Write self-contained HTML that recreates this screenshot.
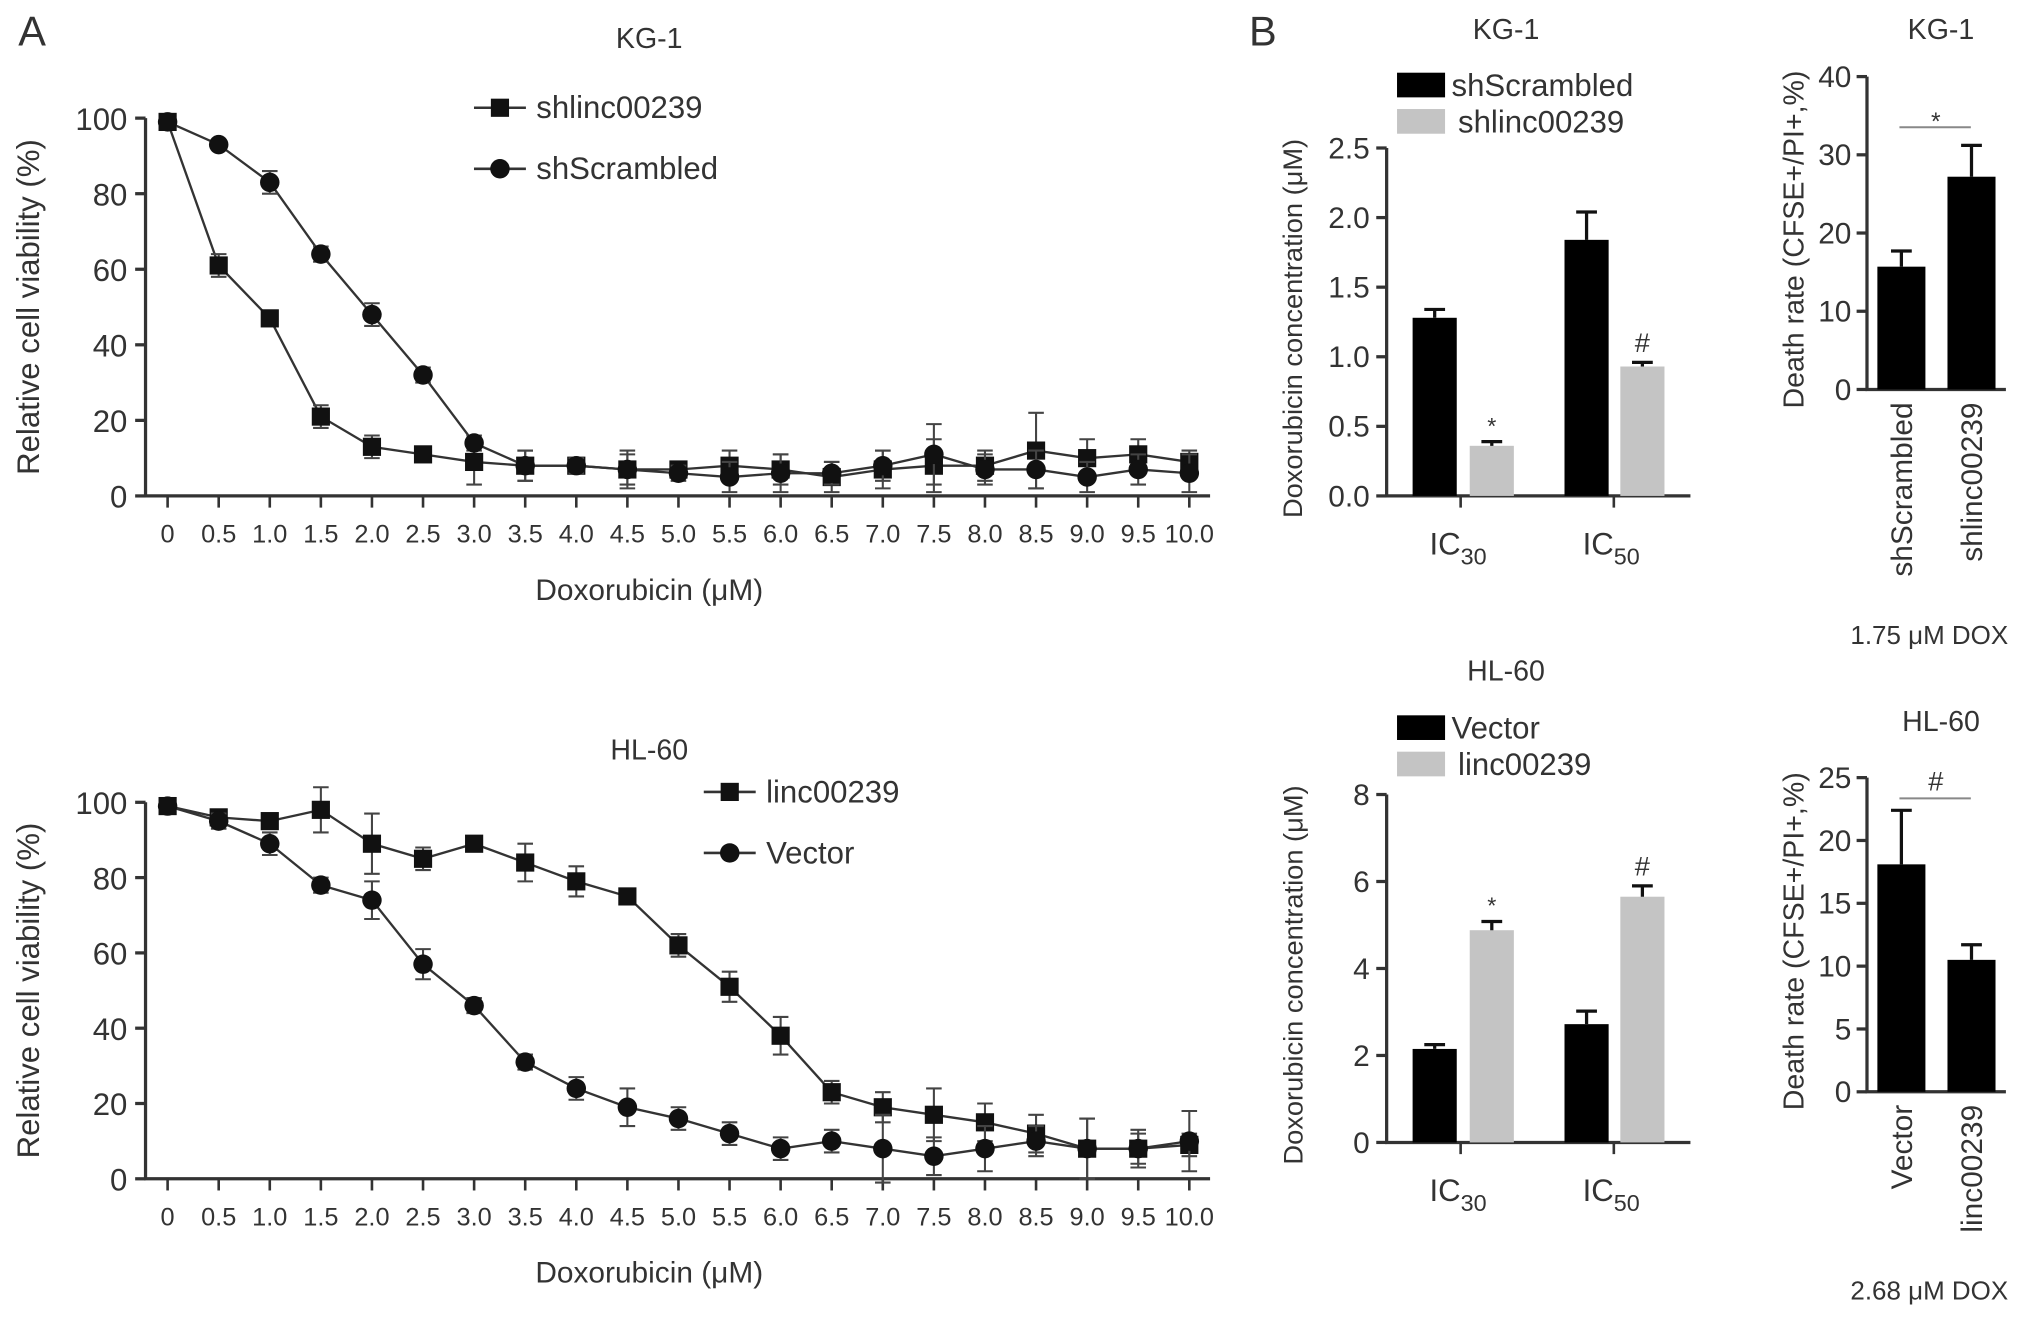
<!DOCTYPE html>
<html><head><meta charset="utf-8"><style>
html,body{margin:0;padding:0;background:#fff}
svg{display:block}
text{font-family:"Liberation Sans",sans-serif;fill:#333}
</style></head><body>
<svg id="fig" width="2032" height="1319" viewBox="0 0 1565 1016" xmlns="http://www.w3.org/2000/svg">
<text x="14" y="35" font-size="32">A</text>
<text x="962" y="35" font-size="32">B</text>
</svg>
<script>
const doses=["0","0.5","1.0","1.5","2.0","2.5","3.0","3.5","4.0","4.5","5.0","5.5","6.0","6.5","7.0","7.5","8.0","8.5","9.0","9.5","10.0"];
const kgSh=[99,61,47,21,13,11,9,8,8,7,7,8,7,5,7,8,8,12,10,11,9];
const kgShErr=[1,3,2,3,3,2,6,4,2,5,2,4,4,4,5,7,4,10,5,4,3];
const kgScr=[99,93,83,64,48,32,14,8,8,7,6,5,6,6,8,11,7,7,5,7,6];
const kgScrErr=[1,1,3,2,3,2,2,4,2,4,2,4,5,3,4,8,4,5,4,4,5];
const hlLinc=[99,96,95,98,89,85,89,84,79,75,62,51,38,23,19,17,15,12,8,8,9];
const hlLincErr=[1,2,2,6,8,3,2,5,4,2,3,4,5,3,4,7,5,5,8,4,3];
const hlVec=[99,95,89,78,74,57,46,31,24,19,16,12,8,10,8,6,8,10,8,8,10];
const hlVecErr=[1,2,3,2,5,4,2,2,3,5,3,3,3,3,9,5,6,4,8,5,8];
const yTicksLine=[0,20,40,60,80,100];
const icCats=["IC30","IC50"];
const kgIcBlack=[1.28,1.84], kgIcBlackErr=[0.06,0.2];
const kgIcGray=[0.36,0.93], kgIcGrayErr=[0.03,0.03];
const hlIcBlack=[2.15,2.72], hlIcBlackErr=[0.1,0.3];
const hlIcGray=[4.88,5.65], hlIcGrayErr=[0.2,0.25];
const kgIcTicks=[0,0.5,1.0,1.5,2.0,2.5];
const hlIcTicks=[0,2,4,6,8];
const kgDeathCats=["shScrambled","shlinc00239"], kgDeath=[15.7,27.2], kgDeathErr=[2,4];
const kgDeathTicks=[0,10,20,30,40];
const hlDeathCats=["Vector","linc00239"], hlDeath=[18.1,10.5], hlDeathErr=[4.3,1.2];
const hlDeathTicks=[0,5,10,15,20,25];

const NS="http://www.w3.org/2000/svg";
const svg=document.getElementById('fig');
function mk(tag,attrs,parent,txt){const e=document.createElementNS(NS,tag);for(const k in attrs)e.setAttribute(k,attrs[k]);if(txt!==undefined)e.textContent=txt;(parent||svg).appendChild(e);return e;}
function grp(name){const g=mk('g',{});


return g;}
function txt(g,x,y,s,size,name,anchor,rot){const t=mk('text',{x:x,y:y,'font-size':size,'text-anchor':anchor||'middle'},g,s);
if(rot)t.setAttribute('transform','rotate('+rot+' '+x+' '+y+')');


return t;}

function lineChart(o){
  const g=grp(o.name);
  const X=i=>129+i*39.35;
  const Y=v=>o.y0-(o.y0-o.y100)*v/100;
  txt(g,500,o.titleY,o.title,22,'chart-title');
  const ax=mk('path',{d:`M112 ${o.y100} V${o.y0} H932`,stroke:'#333','stroke-width':2.5,fill:'none'},g);
  
  
  yTicksLine.forEach(v=>{mk('line',{x1:104,x2:112,y1:Y(v),y2:Y(v),stroke:'#333','stroke-width':2.5},g);
    txt(g,98,Y(v)+9,String(v),24,'y-tick-label','end');});
  doses.forEach((d,i)=>{mk('line',{x1:X(i),x2:X(i),y1:o.y0,y2:o.y0+9,stroke:'#333','stroke-width':2},g);
    txt(g,X(i),o.y0+36,d,19.5,'x-tick-label');});
  txt(g,500,o.y0+80,'Doxorubicin (\u03bcM)',23,'x-axis-title');
  txt(g,30,(o.y0+o.y100)/2,'Relative cell viability (%)',24,'y-axis-title','middle',-90);
  o.series.forEach(s=>{
    const sg=mk('g',{},g);
    
    
    mk('polyline',{points:s.v.map((v,i)=>X(i)+','+Y(v)).join(' '),fill:'none',stroke:'#333','stroke-width':1.8},sg);
    s.v.forEach((v,i)=>{
      const e=s.e[i];
      mk('path',{d:`M${X(i)} ${Y(v+e)} V${Y(v-e)} M${X(i)-6} ${Y(v+e)} H${X(i)+6} M${X(i)-6} ${Y(v-e)} H${X(i)+6}`,stroke:'#444','stroke-width':1.6,fill:'none'},sg);
      let m;
      if(s.shape==='sq')m=mk('rect',{x:X(i)-7,y:Y(v)-7,width:14,height:14,fill:'#111'},sg);
      else m=mk('circle',{cx:X(i),cy:Y(v),r:7.5,fill:'#111'},sg);
      
      
    });
    const lg=mk('g',{},g);
    
    
    mk('line',{x1:s.lx-20,x2:s.lx+20,y1:s.ly,y2:s.ly,stroke:'#333','stroke-width':2},lg);
    if(s.shape==='sq')mk('rect',{x:s.lx-7,y:s.ly-7,width:14,height:14,fill:'#111'},lg);
    else mk('circle',{cx:s.lx,cy:s.ly,r:7.5,fill:'#111'},lg);
    txt(lg,s.lx+28,s.ly+8,s.label,24,'legend-label','start');
  });
}
lineChart({name:'kg1-viability-chart',title:'KG-1',titleY:37,y0:382,y100:91,series:[
 {name:'series-shlinc00239',v:kgSh,e:kgShErr,shape:'sq',lx:385,ly:83,label:'shlinc00239'},
 {name:'series-shscrambled',v:kgScr,e:kgScrErr,shape:'ci',lx:385,ly:130,label:'shScrambled'}]});
lineChart({name:'hl60-viability-chart',title:'HL-60',titleY:585,y0:908,y100:618,series:[
 {name:'series-linc00239',v:hlLinc,e:hlLincErr,shape:'sq',lx:562,ly:610,label:'linc00239'},
 {name:'series-vector',v:hlVec,e:hlVecErr,shape:'ci',lx:562,ly:657,label:'Vector'}]});

function icChart(o){
  const g=grp(o.name);
  const Y=v=>o.y0-(o.y0-o.yTop)*v/o.max;
  txt(g,1160,o.titleY,o.title,22,'chart-title');
  mk('path',{d:`M1068 ${o.yTop} V${o.y0} H1302`,stroke:'#333','stroke-width':2.5,fill:'none'},g);
  o.ticks.forEach(v=>{mk('line',{x1:1060,x2:1068,y1:Y(v),y2:Y(v),stroke:'#333','stroke-width':2.5},g);
    txt(g,1055,Y(v)+8,o.fmt(v),23,'y-tick-label','end');});
  const centers=[1125,1243];
  icCats.forEach((c,i)=>{mk('line',{x1:centers[i],x2:centers[i],y1:o.y0,y2:o.y0+9,stroke:'#333','stroke-width':2},g);
    const t=txt(g,centers[i]-2,o.y0+45,'IC',24,'x-tick-label');
    mk('tspan',{dy:8,'font-size':18},t,c.slice(2));});
  txt(g,1003,(o.y0+o.yTop)/2+5,'Doxorubicin concentration (\u03bcM)',21,'y-axis-title','middle',-90);
  const bx=[[1088,1205],[1132,1248]];
  [[o.b,o.be,'#000'],[o.gr,o.ge,'#c4c4c4']].forEach((s,k)=>{
    s[0].forEach((v,i)=>{
      const x=bx[k][i],w=34;
      const r=mk('rect',{x:x,y:Y(v),width:w,height:o.y0-Y(v),fill:s[2]},g);
      
      
      const e=s[1][i];
      mk('path',{d:`M${x+w/2} ${Y(v)} V${Y(v+e)} M${x+w/2-8} ${Y(v+e)} H${x+w/2+8}`,stroke:'#111','stroke-width':2.5,fill:'none'},g);
      if(k===1)txt(g,x+w/2,Y(v+e)-(i?8:6),i?'#':'*',i?21:18,'significance-mark');
    });
  });
  const lg=grp('legend');g.appendChild(lg);
  mk('rect',{x:1076,y:o.ly,width:37,height:19,fill:'#000'},lg);
  mk('rect',{x:1076,y:o.ly+28,width:37,height:19,fill:'#c4c4c4'},lg);
  txt(lg,1118,o.ly+18,o.l1,24,'legend-label','start');
  txt(lg,1123,o.ly+46,o.l2,24,'legend-label','start');
}
icChart({name:'kg1-ic-chart',title:'KG-1',titleY:30,y0:382,yTop:114,max:2.5,ticks:kgIcTicks,fmt:v=>v.toFixed(1),
 b:kgIcBlack,be:kgIcBlackErr,gr:kgIcGray,ge:kgIcGrayErr,ly:56,l1:'shScrambled',l2:'shlinc00239'});
icChart({name:'hl60-ic-chart',title:'HL-60',titleY:524,y0:880,yTop:612,max:8,ticks:hlIcTicks,fmt:v=>String(v),
 b:hlIcBlack,be:hlIcBlackErr,gr:hlIcGray,ge:hlIcGrayErr,ly:551,l1:'Vector',l2:'linc00239'});

function deathChart(o){
  const g=grp(o.name);
  const Y=v=>o.y0-(o.y0-o.yTop)*v/o.max;
  txt(g,1495,o.titleY,o.title,22,'chart-title');
  mk('path',{d:`M1438 ${o.yTop} V${o.y0} H1545`,stroke:'#333','stroke-width':2.5,fill:'none'},g);
  o.ticks.forEach(v=>{mk('line',{x1:1430,x2:1438,y1:Y(v),y2:Y(v),stroke:'#333','stroke-width':2.5},g);
    txt(g,1426,Y(v)+8,String(v),23,'y-tick-label','end');});
  txt(g,1389,(o.y0+o.yTop)/2+5,'Death rate (CFSE+/PI+,%)',22,'y-axis-title','middle',-90);
  const bx=[1446,1500];
  o.v.forEach((v,i)=>{
    const x=bx[i],w=37;
    const r=mk('rect',{x:x,y:Y(v),width:w,height:o.y0-Y(v),fill:'#000'},g);
    
    
    const e=o.e[i];
    mk('path',{d:`M${x+w/2} ${Y(v)} V${Y(v+e)} M${x+w/2-8} ${Y(v+e)} H${x+w/2+8}`,stroke:'#111','stroke-width':2.5,fill:'none'},g);
    txt(g,x+w/2+8,o.y0+10,o.cats[i],23,'x-tick-label','end',-90);
  });
  mk('line',{x1:1463,x2:1518,y1:o.sigY,y2:o.sigY,stroke:'#888','stroke-width':1.5},g);
  txt(g,1491,o.sigY-(o.sig==='#'?6:-2),o.sig,o.sig==='#'?21:19,'significance-mark');
  txt(g,1486,o.noteY,o.note,20,'dose-note');
}
deathChart({name:'kg1-death-chart',title:'KG-1',titleY:30,y0:300,yTop:59,max:40,ticks:kgDeathTicks,
 v:kgDeath,e:kgDeathErr,cats:kgDeathCats,sigY:98,sig:'*',note:'1.75 \u03bcM DOX',noteY:496});
deathChart({name:'hl60-death-chart',title:'HL-60',titleY:563,y0:841,yTop:599,max:25,ticks:hlDeathTicks,
 v:hlDeath,e:hlDeathErr,cats:hlDeathCats,sigY:615,sig:'#',note:'2.68 \u03bcM DOX',noteY:1001});
</script>
</body></html>
